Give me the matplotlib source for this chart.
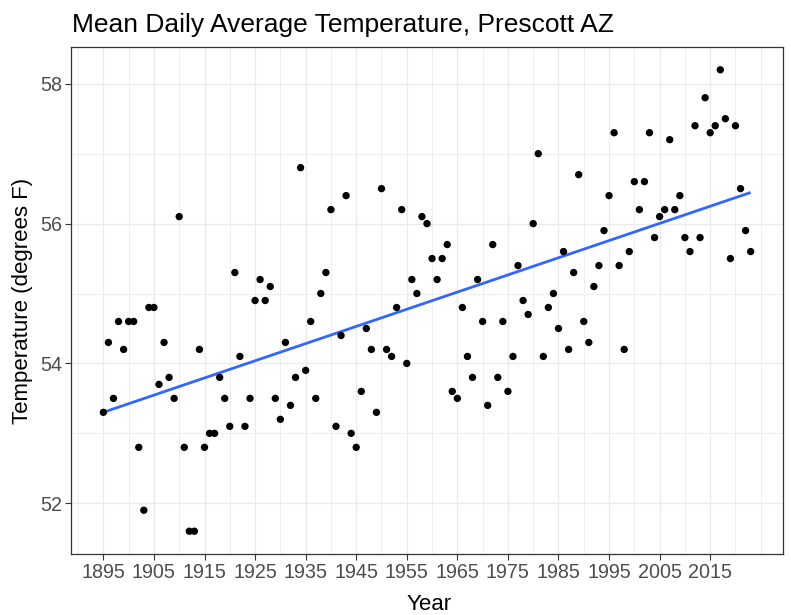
import numpy as np
import matplotlib
matplotlib.use("Agg")
import matplotlib.pyplot as plt

# ---- data ----
years = list(range(1895, 2024))
temps = [
    53.3, 54.3, 53.5, 54.6, 54.2, 54.6, 54.6, 52.8, 51.9, 54.8,   # 1895-1904
    54.8, 53.7, 54.3, 53.8, 53.5, 56.1, 52.8, 51.6, 51.6, 54.2,   # 1905-1914
    52.8, 53.0, 53.0, 53.8, 53.5, 53.1, 55.3, 54.1, 53.1, 53.5,   # 1915-1924
    54.9, 55.2, 54.9, 55.1, 53.5, 53.2, 54.3, 53.4, 53.8, 56.8,   # 1925-1934
    53.9, 54.6, 53.5, 55.0, 55.3, 56.2, 53.1, 54.4, 56.4, 53.0,   # 1935-1944
    52.8, 53.6, 54.5, 54.2, 53.3, 56.5, 54.2, 54.1, 54.8, 56.2,   # 1945-1954
    54.0, 55.2, 55.0, 56.1, 56.0, 55.5, 55.2, 55.5, 55.7, 53.6,   # 1955-1964
    53.5, 54.8, 54.1, 53.8, 55.2, 54.6, 53.4, 55.7, 53.8, 54.6,   # 1965-1974
    53.6, 54.1, 55.4, 54.9, 54.7, 56.0, 57.0, 54.1, 54.8, 55.0,   # 1975-1984
    54.5, 55.6, 54.2, 55.3, 56.7, 54.6, 54.3, 55.1, 55.4, 55.9,   # 1985-1994
    56.4, 57.3, 55.4, 54.2, 55.6, 56.6, 56.2, 56.6, 57.3, 55.8,   # 1995-2004
    56.1, 56.2, 57.2, 56.2, 56.4, 55.8, 55.6, 57.4, 55.8, 57.8,   # 2005-2014
    57.3, 57.4, 58.2, 57.5, 55.5, 57.4, 56.5, 55.9, 55.6,         # 2015-2023
]
x_major = list(range(1895, 2016, 10))
x_minor = list(range(1890, 2026, 10)) + [2025]
y_major = [52, 54, 56, 58]
y_minor = [53, 55, 57]

title = "Mean Daily Average Temperature, Prescott AZ"
xlabel = "Year"
ylabel = "Temperature (degrees F)"

plt.rcParams['font.family'] = ['Liberation Sans', 'DejaVu Sans']

W, H = 791, 615
fig = plt.figure(figsize=(W / 100, H / 100), dpi=100)
left, right, top, bottom = 71, 783, 46.7, 554.3
ax = fig.add_axes([left / W, 1 - bottom / H, (right - left) / W, (bottom - top) / H])

x = np.array(years, dtype=float)
y = np.array(temps, dtype=float)

# linear fit (geom_smooth method = "lm")
coef = np.polyfit(x, y, 1)
xs = np.linspace(x.min(), x.max(), 200)
ax.plot(xs, np.polyval(coef, xs), color="#3366FF", lw=2.0, zorder=3, solid_capstyle='butt')
ax.scatter(x, y, s=28, color="black", edgecolors="none", zorder=4)

xr = x.max() - x.min()
yr = y.max() - y.min()
ax.set_xlim(x.min() - 0.05 * xr, x.max() + 0.05 * xr)
ax.set_ylim(y.min() - 0.05 * yr, y.max() + 0.05 * yr)

ax.set_xticks(x_major)
ax.set_xticks(x_minor, minor=True)
ax.set_yticks(y_major)
ax.set_yticks(y_minor, minor=True)
ax.set_xticklabels([str(v) for v in x_major])
ax.set_yticklabels([str(v) for v in y_major])

ax.grid(which="major", color="#EBEBEB", lw=1.0)
ax.grid(which="minor", color="#EBEBEB", lw=0.6)
ax.set_axisbelow(True)

ax.tick_params(which="major", length=4, width=0.8, color="#333333",
               labelsize=14.2, labelcolor="#4D4D4D", pad=2)
ax.tick_params(which="minor", length=0)
for s in ax.spines.values():
    s.set_color("#333333")
    s.set_linewidth(0.9)

fig.text(71.7 / W, 1 - 32.3 / H, title, fontsize=19, ha="left", va="baseline", color="black")
fig.text(428.7 / W, 1 - 609.5 / H, xlabel, fontsize=16, ha="center", va="baseline", color="black")
fig.text(22.2 / W, 1 - 300.5 / H, ylabel, fontsize=16, rotation=90, ha="center", va="center", color="black")

fig.savefig("out.png", dpi=100, facecolor="white")
